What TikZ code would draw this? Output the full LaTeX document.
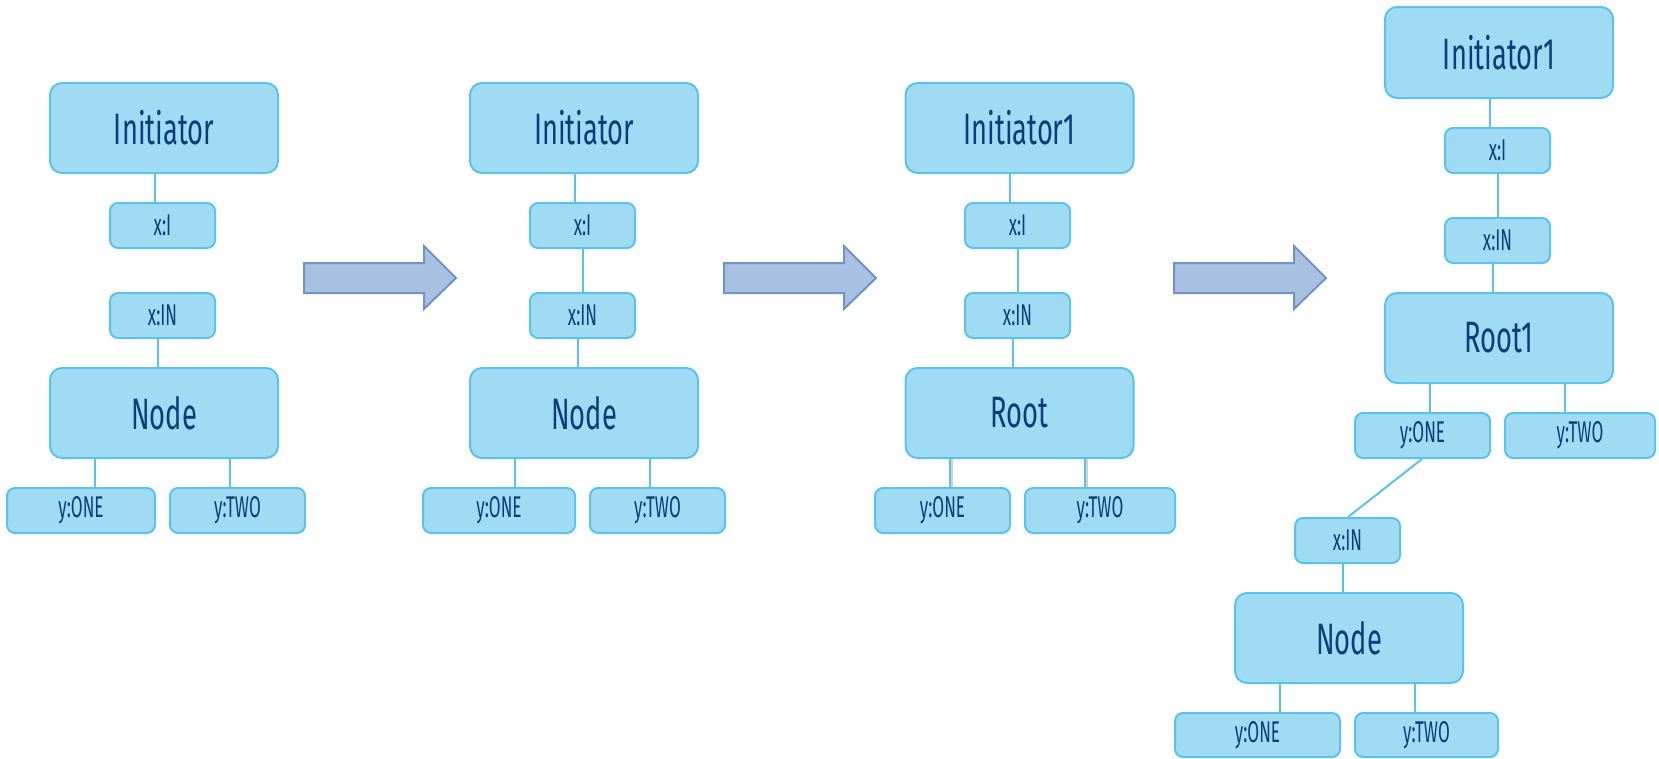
\documentclass[tikz,border=0pt]{standalone}
\usepackage{fontspec}
\setmainfont{Fira Sans}[FakeStretch=0.62]
\newfontfamily\labelfont{Fira Sans}[FakeStretch=0.57]
\definecolor{boxfill}{HTML}{9FDCF3}
\definecolor{boxline}{HTML}{5BC3EA}
\definecolor{boxtext}{HTML}{0B3C7D}
\definecolor{arrowfill}{HTML}{A9C1E0}
\definecolor{arrowline}{HTML}{7093C9}
\tikzset{
  box/.style={draw=boxline, fill=boxfill, line width=2pt, text=boxtext,
    inner sep=0pt, anchor=center},
  bigbox/.style={box, rounded corners=12pt, minimum width=228, minimum height=90,
    font=\fontsize{44}{48}\selectfont},
  smallbox/.style={box, rounded corners=8pt, minimum height=45,
    font=\labelfont\fontsize{30}{33}\selectfont},
  link/.style={draw=boxline, line width=2pt},
  shade link/.style={draw=black!18, line width=3pt},
  bigarrow/.style={draw=arrowline, fill=arrowfill, line width=2pt, line join=miter}
}
\begin{document}
\begin{tikzpicture}[x=1pt, y=-1pt]
\useasboundingbox (0,0) rectangle (1659,758);

% transition arrows
\foreach \s in {0,420,870} {
  \draw[bigarrow, xshift=\s] (304,263) -- (424,263) -- (424,246) -- (456,278)
    -- (424,309) -- (424,293) -- (304,293) -- cycle;
}

% stage 1: detached node
\node[bigbox] (i1) at (164,128) {Initiator};
\node[smallbox, minimum width=105] (xi1) at (162.5,225.5) {x:I};
\node[smallbox, minimum width=105] (xn1) at (162.5,315.5) {x:IN};
\node[bigbox] (n1) at (164,413) {Node};
\node[smallbox, minimum width=148] (o1) at (81,510.5) {y:ONE};
\node[smallbox, minimum width=135] (t1) at (237.5,510.5) {y:TWO};
\draw[link] ([xshift=-9]i1.south) -- ([xshift=-7.5]xi1.north);
\draw[link] ([xshift=-4.5]xn1.south) -- ([xshift=-6]n1.north);
\draw[link] ([xshift=-69]n1.south) -- ([xshift=14]o1.north);
\draw[link] ([xshift=66]n1.south) -- ([xshift=-7.5]t1.north);

% stage 2: node attached to the initiator
\node[bigbox] (i2) at (584,128) {Initiator};
\node[smallbox, minimum width=105] (xi2) at (582.5,225.5) {x:I};
\node[smallbox, minimum width=105] (xn2) at (582.5,315.5) {x:IN};
\node[bigbox] (n2) at (584,413) {Node};
\node[smallbox, minimum width=152] (o2) at (499,510.5) {y:ONE};
\node[smallbox, minimum width=135] (t2) at (657.5,510.5) {y:TWO};
\draw[link] ([xshift=-9]i2.south) -- ([xshift=-7.5]xi2.north);
\draw[link] ([xshift=0.5]xi2.south) -- ([xshift=0.5]xn2.north);
\draw[link] ([xshift=-4.5]xn2.south) -- ([xshift=-6]n2.north);
\draw[link] ([xshift=-69]n2.south) -- ([xshift=16]o2.north);
\draw[link] ([xshift=66]n2.south) -- ([xshift=-7.5]t2.north);

% stage 3: node becomes root
\node[bigbox] (i3) at (1019.5,128) {Initiator1};
\node[smallbox, minimum width=105] (xi3) at (1017.5,225.5) {x:I};
\node[smallbox, minimum width=105] (xn3) at (1017.5,315.5) {x:IN};
\node[bigbox] (r3) at (1019.5,413) {Root};
\node[smallbox, minimum width=135] (o3) at (942.5,510.5) {y:ONE};
\node[smallbox, minimum width=150] (t3) at (1100,510.5) {y:TWO};
\draw[link] ([xshift=-9.5]i3.south) -- ([xshift=-7.5]xi3.north);
\draw[link] ([xshift=0.5]xi3.south) -- ([xshift=0.5]xn3.north);
\draw[link] ([xshift=-4.5]xn3.south) -- ([xshift=-6.5]r3.north);
\draw[shade link] ([xshift=-68]r3.south) -- ([xshift=9]o3.north);
\draw[shade link] ([xshift=67]r3.south) -- ([xshift=-13.5]t3.north);
\draw[link] ([xshift=-69.5]r3.south) -- ([xshift=7.5]o3.north);
\draw[link] ([xshift=65.5]r3.south) -- ([xshift=-15]t3.north);

% stage 4: new node below the root
\node[bigbox, minimum height=91] (i4) at (1499,52.5) {Initiator1};
\node[smallbox, minimum width=105] (xi4) at (1497.5,150.5) {x:I};
\node[smallbox, minimum width=105] (xn4) at (1497.5,240.5) {x:IN};
\node[bigbox] (r4) at (1499,338) {Root1};
\node[smallbox, minimum width=135] (o4) at (1422.5,435.5) {y:ONE};
\node[smallbox, minimum width=150] (t4) at (1580,435.5) {y:TWO};
\node[smallbox, minimum width=105] (xn5) at (1347.5,540.5) {x:IN};
\node[bigbox] (n5) at (1349,638) {Node};
\node[smallbox, minimum width=165, minimum height=44] (o5) at (1257.5,735) {y:ONE};
\node[smallbox, minimum width=143, minimum height=44] (t5) at (1426.5,735) {y:TWO};
\draw[link] ([xshift=-9]i4.south) -- ([xshift=-7.5]xi4.north);
\draw[link] ([xshift=0.5]xi4.south) -- ([xshift=0.5]xn4.north);
\draw[link] ([xshift=-4.5]xn4.south) -- ([xshift=-6]r4.north);
\draw[link] ([xshift=-69]r4.south) -- ([xshift=7.5]o4.north);
\draw[link] ([xshift=66]r4.south) -- ([xshift=-15]t4.north);
\draw[link] ([xshift=-0.5]o4.south) -- ([xshift=0.5]xn5.north);
\draw[link] ([xshift=-4.5]xn5.south) -- ([xshift=-6]n5.north);
\draw[link] ([xshift=-69]n5.south) -- ([xshift=22.5]o5.north);
\draw[link] ([xshift=66]n5.south) -- ([xshift=-11.5]t5.north);
\end{tikzpicture}
\end{document}
